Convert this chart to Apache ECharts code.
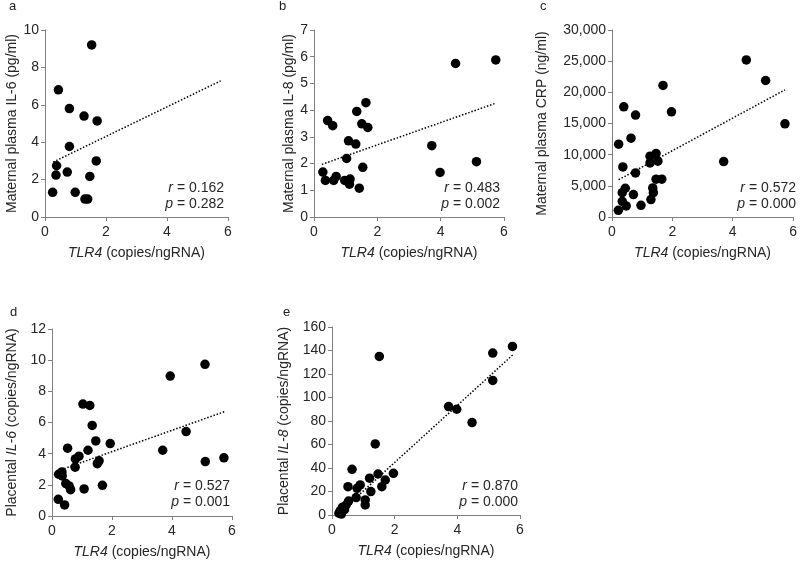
<!DOCTYPE html>
<html><head><meta charset="utf-8">
<script src="https://cdn.jsdelivr.net/npm/echarts@6/dist/echarts.min.js"></script>
<style>html,body{margin:0;padding:0;background:#fff}#c{width:800px;height:561px}</style>
</head><body><div id="c"></div>
<script>
// ---- data ----
const aX = [1.53,0.44,0.80,1.28,1.71,0.80,0.38,1.68,0.36,0.73,1.47,0.25,0.99,1.31,1.40];
const aY = [9.2,6.8,5.8,5.4,5.14,3.77,2.74,3.0,2.24,2.4,2.17,1.32,1.32,0.96,0.96];
const aTrend = [[0.27,2.94],[5.76,7.28]];

const bX = [1.64,1.35,0.43,0.59,1.51,1.70,1.09,1.32,1.03,1.54,0.28,0.36,0.62,0.70,0.97,1.14,1.12,1.43,3.72,3.98,4.47,5.13,5.74];
const bY = [4.28,3.95,3.61,3.42,3.49,3.35,2.85,2.73,2.19,1.86,1.68,1.37,1.37,1.52,1.37,1.42,1.23,1.08,2.67,1.67,5.75,2.07,5.88];
const bTrend = [[0.25,1.97],[5.74,4.26]];

const cX = [0.21,0.34,0.47,0.34,0.44,0.71,0.96,1.29,1.37,1.35,1.46,1.65,0.78,0.36,1.26,1.26,1.46,1.52,0.22,0.63,0.78,0.39,1.69,1.97,3.70,4.45,5.09,5.73];
const cY = [1070,2520,1770,3910,4610,3590,1880,2790,3910,4660,6060,6060,7070,8040,8680,9750,10180,8950,11680,12650,16350,17680,21110,16880,8900,25200,21900,14950];
const cTrend = [[0.22,5980],[5.73,20400]];

const dX = [1.03,1.26,1.34,1.46,1.94,0.52,1.20,0.90,0.78,0.77,1.51,1.57,0.22,0.33,0.34,0.46,0.57,0.62,1.07,1.68,0.21,0.42,3.94,5.10,4.47,3.69,5.11,5.73];
const dY = [7.18,7.09,5.81,4.82,4.65,4.35,4.22,3.84,3.66,3.13,3.36,3.54,2.68,2.83,2.57,2.08,1.93,1.69,1.74,1.97,1.07,0.71,8.98,9.73,5.42,4.22,3.49,3.73];
const dTrend = [[0.2,2.9],[5.77,6.71]];

const eX = [1.38,0.64,1.47,1.96,1.20,1.70,1.59,0.90,0.80,0.51,1.24,0.77,1.06,1.06,0.53,0.22,0.26,0.30,0.33,0.40,0.45,1.51,3.72,3.98,4.47,5.13,5.13,5.76];
const eY = [60.5,38.9,34.9,35.5,31.3,29.8,24.1,25.6,22.7,24.1,19.9,14.8,12.8,8.5,11.9,1.5,3.5,0.8,6.5,4.5,8.5,135,92.3,90,78.7,137.8,114.5,143.5];
const eTrend = [[0.2,1],[5.8,137]];

const xTickMax = 6, xTickStep = 2;
const yMax = [10,7,30000,12,160];
const yStep = [2,1,5000,2,20];
const yNames = [
  'Maternal plasma IL-6 (pg/ml)',
  'Maternal plasma IL-8 (pg/ml)',
  'Maternal plasma CRP (ng/ml)',
  'Placental {i|IL-6} (copies/ngRNA)',
  'Placental {i|IL-8} (copies/ngRNA)'
];
const rVals = ['0.162','0.483','0.572','0.527','0.870'];
const pVals = ['0.282','0.002','0.000','0.001','0.000'];
const letters = ['a','b','c','d','e'];

// ---- layout ----
const grids = [
  {left:45, top:30, width:183, height:187},
  {left:314, top:30, width:190, height:187},
  {left:612, top:30, width:185, height:187},
  {left:52, top:329, width:180, height:187},
  {left:332, top:327, width:188, height:188}
];
const yNameGaps = [26,16,63,33,41];
const letterPos = [[9,0],[279,0],[540,0],[10,306],[283,306]];
const statPos = [[224,180],[500,180],[796,180],[230,478],[518,478]];

const FONT = '"Liberation Sans", Arial, sans-serif';
const TXT = '#262626', LINE = '#808080';
const rich = {i:{fontStyle:'italic', fontSize:14, fontFamily:FONT, color:TXT}};

const xs = [aX,bX,cX,dX,eX], ys=[aY,bY,cY,dY,eY], trends=[aTrend,bTrend,cTrend,dTrend,eTrend];

const option = {
  animation:false,
  backgroundColor:'#fff',
  textStyle:{fontFamily:FONT},
  grid: grids.map(g=>Object.assign({containLabel:false}, g)),
  xAxis: grids.map((g,i)=>({
    gridIndex:i, type:'value', min:0, max:xTickMax, interval:xTickStep,
    name:'{i|TLR4} (copies/ngRNA)', nameLocation:'middle', nameGap:29,
    nameTextStyle:{fontSize:14, color:TXT, fontFamily:FONT, rich},
    axisLine:{show:true, lineStyle:{color:LINE, width:1}},
    axisTick:{show:true, length:4, lineStyle:{color:LINE}},
    axisLabel:{fontSize:14, color:TXT, margin:8, fontFamily:FONT},
    splitLine:{show:false}
  })),
  yAxis: grids.map((g,i)=>({
    gridIndex:i, type:'value', min:0, max:yMax[i], interval:yStep[i],
    name:yNames[i], nameLocation:'middle', nameGap:yNameGaps[i], nameRotate:90,
    nameTextStyle:{fontSize:14, color:TXT, fontFamily:FONT, rich},
    axisLine:{show:true, lineStyle:{color:LINE, width:1}},
    axisTick:{show:true, length:4, lineStyle:{color:LINE}},
    axisLabel:{fontSize:14, color:TXT, margin:6, fontFamily:FONT,
      formatter: v => v.toLocaleString('en-US')},
    splitLine:{show:false}
  })),
  series: [].concat(...grids.map((g,i)=>[
    {type:'scatter', xAxisIndex:i, yAxisIndex:i, symbol:'circle', symbolSize:9.5,
     itemStyle:{color:'#000', opacity:1}, data: xs[i].map((x,k)=>[x, ys[i][k]]), z:3},
    {type:'line', xAxisIndex:i, yAxisIndex:i, showSymbol:false, symbol:'none',
     lineStyle:{color:'#000', width:1.5, type:[1.5,1.8]}, data: trends[i], z:2}
  ])),
  graphic: [].concat(
    letters.map((l,i)=>({type:'text', left:letterPos[i][0], top:letterPos[i][1],
      style:{text:l, font:'13px '+FONT, fill:'#222'}})),
    statPos.map((p,i)=>({type:'text', x:p[0], y:p[1],
      style:{text:'{i|r} = '+rVals[i]+'\n{i|p} = '+pVals[i], align:'right', verticalAlign:'top',
        font:'14px '+FONT, fill:TXT, lineHeight:16,
        rich:{i:{fontStyle:'italic', font:'italic 14px '+FONT, fill:TXT, lineHeight:16}}}}))
  )
};
const chart = echarts.init(document.getElementById('c'), null, {renderer:'canvas'});
chart.setOption(option);
</script></body></html>
